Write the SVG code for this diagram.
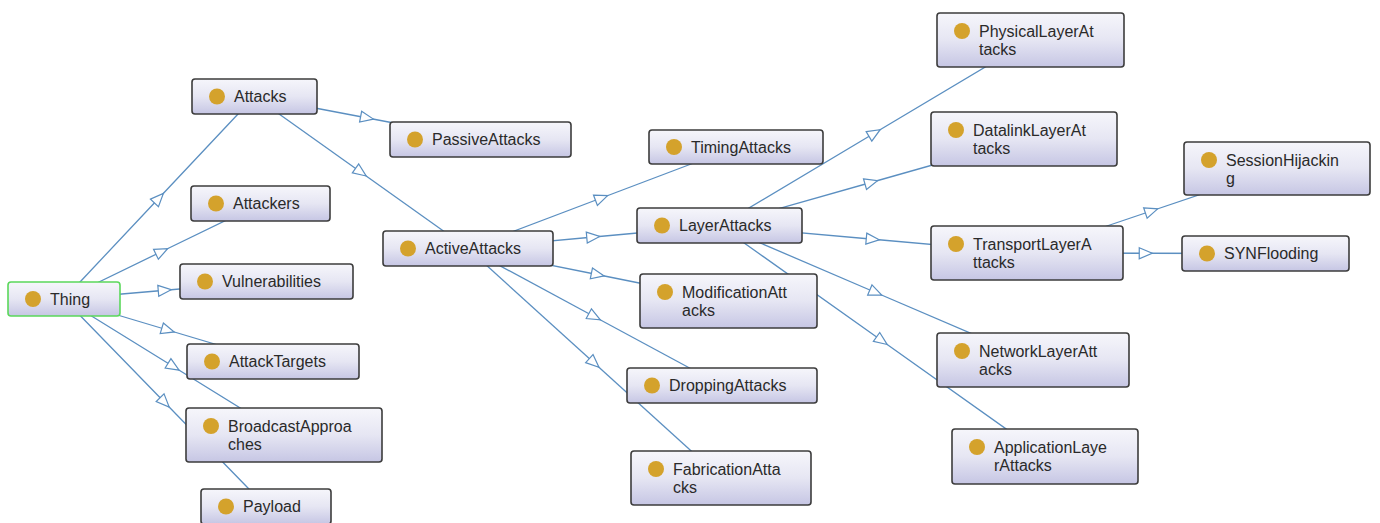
<svg xmlns="http://www.w3.org/2000/svg" width="1380" height="523" viewBox="0 0 1380 523">
<style>
.e{fill:none;stroke:#5b8fc1;stroke-width:1.3;marker-mid:url(#tri)}
.n{fill:url(#g);stroke:#3c3c3c;stroke-width:1.6}
.root{stroke:#5bd85b}
.d{fill:#d4a22c}
.t{font-family:"Liberation Sans",Arial,sans-serif;font-size:16px;fill:#2a2a2a}
</style>
<defs>
<linearGradient id="g" x1="0" y1="0" x2="0" y2="1">
<stop offset="0" stop-color="#f6f6fb"/>
<stop offset="0.5" stop-color="#e6e6f3"/>
<stop offset="1" stop-color="#c6c6e4"/>
</linearGradient>
<marker id="tri" markerUnits="userSpaceOnUse" orient="auto" refX="7" refY="6" markerWidth="16" markerHeight="12" overflow="visible">
<path d="M0,0.5 L13,6 L0,11.5 Z" fill="#fff" stroke="#5b8fc1" stroke-width="1.2"/>
</marker>
</defs>
<g id="connectors">
<path class="e" d="M64,299 L159.25,197.75 L254.5,96.5"/>
<path class="e" d="M64,299 L162.25,251.25 L260.5,203.5"/>
<path class="e" d="M64,299 L165.25,290.25 L266.5,281.5"/>
<path class="e" d="M64,299 L168.5,330.25 L273,361.5"/>
<path class="e" d="M64,299 L174,367 L284,435"/>
<path class="e" d="M64,299 L165,402.75 L266,506.5"/>
<path class="e" d="M254.5,96.5 L367.5,118 L480.5,139.5"/>
<path class="e" d="M254.5,96.5 L361.25,172.5 L468,248.5"/>
<path class="e" d="M468,248.5 L602,197.75 L736,147"/>
<path class="e" d="M468,248.5 L593.75,237 L719.5,225.5"/>
<path class="e" d="M468,248.5 L598.25,274.75 L728.5,301"/>
<path class="e" d="M468,248.5 L595,317 L722,385.5"/>
<path class="e" d="M468,248.5 L594.5,363.25 L721,478"/>
<path class="e" d="M719.5,225.5 L875,132.75 L1030.5,40"/>
<path class="e" d="M719.5,225.5 L871.75,182.25 L1024,139"/>
<path class="e" d="M719.5,225.5 L873.25,239.25 L1027,253"/>
<path class="e" d="M719.5,225.5 L876.25,292.75 L1033,360"/>
<path class="e" d="M719.5,225.5 L882.25,341 L1045,456.5"/>
<path class="e" d="M1027,253 L1152,210.75 L1277,168.5"/>
<path class="e" d="M1027,253 L1146.25,253.25 L1265.5,253.5"/>
</g>
<g id="Thing"><rect class="n root" x="8" y="282" width="112" height="34" rx="3"/><circle class="d" cx="33" cy="299" r="8"/><text class="t" x="50" y="304.5">Thing</text></g>
<g id="Attacks"><rect class="n" x="192" y="79" width="125" height="35" rx="3"/><circle class="d" cx="217" cy="96.5" r="8"/><text class="t" x="234" y="102">Attacks</text></g>
<g id="PassiveAttacks"><rect class="n" x="390" y="122" width="181" height="35" rx="3"/><circle class="d" cx="415" cy="139.5" r="8"/><text class="t" x="432" y="145">PassiveAttacks</text></g>
<g id="Attackers"><rect class="n" x="191" y="186" width="139" height="35" rx="3"/><circle class="d" cx="216" cy="203.5" r="8"/><text class="t" x="233" y="209">Attackers</text></g>
<g id="Vulnerabilities"><rect class="n" x="180" y="264" width="173" height="35" rx="3"/><circle class="d" cx="205" cy="281.5" r="8"/><text class="t" x="222" y="287">Vulnerabilities</text></g>
<g id="AttackTargets"><rect class="n" x="187" y="344" width="172" height="35" rx="3"/><circle class="d" cx="212" cy="361.5" r="8"/><text class="t" x="229" y="367">AttackTargets</text></g>
<g id="BroadcastApproaches"><rect class="n" x="186" y="408" width="196" height="54" rx="3"/><circle class="d" cx="211" cy="426" r="8"/><text class="t" x="228" y="432">BroadcastApproa<tspan x="228" y="450">ches</tspan></text></g>
<g id="Payload"><rect class="n" x="201" y="489" width="130" height="35" rx="3"/><circle class="d" cx="226" cy="506.5" r="8"/><text class="t" x="243" y="512">Payload</text></g>
<g id="ActiveAttacks"><rect class="n" x="383" y="231" width="170" height="35" rx="3"/><circle class="d" cx="408" cy="248.5" r="8"/><text class="t" x="425" y="254">ActiveAttacks</text></g>
<g id="TimingAttacks"><rect class="n" x="649" y="130" width="174" height="34" rx="3"/><circle class="d" cx="674" cy="147" r="8"/><text class="t" x="691" y="152.5">TimingAttacks</text></g>
<g id="LayerAttacks"><rect class="n" x="637" y="208" width="165" height="35" rx="3"/><circle class="d" cx="662" cy="225.5" r="8"/><text class="t" x="679" y="231">LayerAttacks</text></g>
<g id="ModificationAttacks"><rect class="n" x="640" y="274" width="177" height="54" rx="3"/><circle class="d" cx="665" cy="292" r="8"/><text class="t" x="682" y="298">ModificationAtt<tspan x="682" y="316">acks</tspan></text></g>
<g id="DroppingAttacks"><rect class="n" x="627" y="368" width="190" height="35" rx="3"/><circle class="d" cx="652" cy="385.5" r="8"/><text class="t" x="669" y="391">DroppingAttacks</text></g>
<g id="FabricationAttacks"><rect class="n" x="631" y="451" width="180" height="54" rx="3"/><circle class="d" cx="656" cy="469" r="8"/><text class="t" x="673" y="475">FabricationAtta<tspan x="673" y="493">cks</tspan></text></g>
<g id="PhysicalLayerAttacks"><rect class="n" x="937" y="13" width="187" height="54" rx="3"/><circle class="d" cx="962" cy="31" r="8"/><text class="t" x="979" y="37">PhysicalLayerAt<tspan x="979" y="55">tacks</tspan></text></g>
<g id="DatalinkLayerAttacks"><rect class="n" x="931" y="112" width="186" height="54" rx="3"/><circle class="d" cx="956" cy="130" r="8"/><text class="t" x="973" y="136">DatalinkLayerAt<tspan x="973" y="154">tacks</tspan></text></g>
<g id="TransportLayerAttacks"><rect class="n" x="931" y="226" width="192" height="54" rx="3"/><circle class="d" cx="956" cy="244" r="8"/><text class="t" x="973" y="250">TransportLayerA<tspan x="973" y="268">ttacks</tspan></text></g>
<g id="SessionHijacking"><rect class="n" x="1184" y="142" width="186" height="53" rx="3"/><circle class="d" cx="1209" cy="160" r="8"/><text class="t" x="1226" y="166">SessionHijackin<tspan x="1226" y="184">g</tspan></text></g>
<g id="SYNFlooding"><rect class="n" x="1182" y="236" width="167" height="35" rx="3"/><circle class="d" cx="1207" cy="253.5" r="8"/><text class="t" x="1224" y="259">SYNFlooding</text></g>
<g id="NetworkLayerAttacks"><rect class="n" x="937" y="333" width="192" height="54" rx="3"/><circle class="d" cx="962" cy="351" r="8"/><text class="t" x="979" y="357">NetworkLayerAtt<tspan x="979" y="375">acks</tspan></text></g>
<g id="ApplicationLayerAttacks"><rect class="n" x="952" y="429" width="186" height="55" rx="3"/><circle class="d" cx="977" cy="447" r="8"/><text class="t" x="994" y="453">ApplicationLaye<tspan x="994" y="471">rAttacks</tspan></text></g>
</svg>
